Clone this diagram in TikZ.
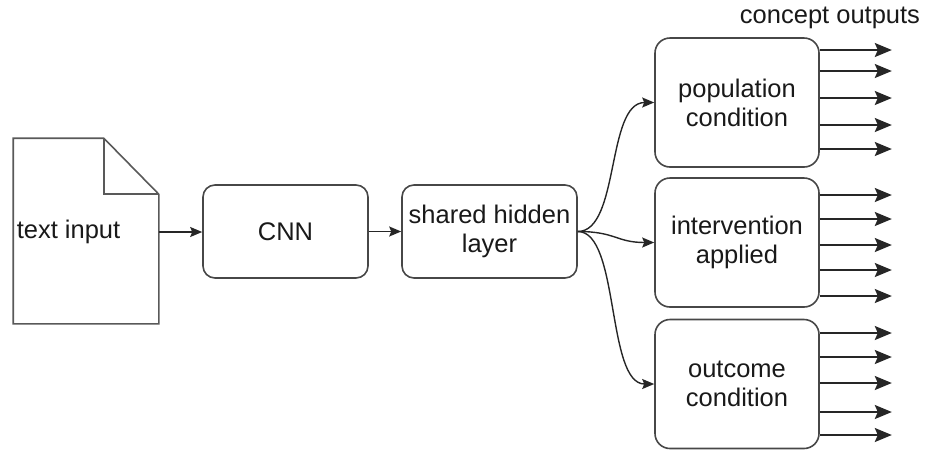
\documentclass[tikz,border=0pt]{standalone}
\usepackage{fontspec}
\setmainfont{Liberation Sans}
\usetikzlibrary{arrows.meta}
\begin{document}
\begin{tikzpicture}[x=1pt,y=-1pt,
  line width=1.6pt,
  lbl/.style={font=\fontsize{25.5}{29}\selectfont, text=black!90},
  box/.style={draw=black!72, rounded corners=12pt, lbl, align=center, inner sep=0pt},
  bigbox/.style={box, rounded corners=15pt, minimum width=164pt, minimum height=129pt},
  conn/.style={draw=black!85, line width=1.4pt, -{Stealth[length=12pt,width=10pt,inset=2pt]}},
  outarrow/.style={draw=black!85, line width=1.8pt, -{Stealth[length=17pt,width=14pt,inset=3pt]}}]
\useasboundingbox (0,0) rectangle (929,451);
% document
\node (doc) [minimum width=144pt, minimum height=184pt, inner sep=0pt] at (86,231) {};
\draw[draw=black!65, line join=miter] (doc.north west) -- ([xshift=-55pt]doc.north east)
  -- ([yshift=-56pt]doc.north east) -- (doc.south east) -- (doc.south west) -- cycle;
\draw[draw=black!65] ([xshift=-55pt]doc.north east) -- ([xshift=-55pt,yshift=-56pt]doc.north east)
  -- ([yshift=-56pt]doc.north east);
\node (doctext) [lbl, anchor=west, inner sep=0pt] at (16,232) {text input};
% boxes
\node (cnn) [box, minimum width=165pt, minimum height=93pt] at (285.5,231.5) {CNN};
\node (shl) [box, minimum width=175pt, minimum height=93pt] at (489.5,231.5) {shared hidden\\layer};
\node (pop) [bigbox] at (737,102.5) {population\\condition};
\node (int) [bigbox] at (737,242.5) {intervention\\applied};
\node (out) [bigbox] at (737,384) {outcome\\condition};
\node (co) [lbl, inner sep=0pt] at (830,18) {concept outputs};
% connectors
\draw[conn] (doc.east |- doctext) -- (cnn.west |- doctext);
\draw[conn] (cnn.east) -- (shl.west);
\draw[conn] (shl.east) .. controls +(42,0) and +(-48,0) .. (pop.west);
\draw[conn] (shl.east) .. controls +(38,0) and +(-38,0) .. (int.west);
\draw[conn] (shl.east) .. controls +(42,0) and +(-48,0) .. (out.west);
% outputs
\foreach \n/\dy in {1/52.5,2/31.5,3/4.5,4/-22.5,5/-46.5}
  \draw[outarrow] ([yshift=\dy pt]pop.east) -- ++(72,0) coordinate (pop-o\n);
\foreach \n/\dy in {1/47.5,2/23.5,3/-2.5,4/-27.5,5/-53.5}
  \draw[outarrow] ([yshift=\dy pt]int.east) -- ++(72,0) coordinate (int-o\n);
\foreach \n/\dy in {1/51,2/27,3/1,4/-28,5/-51}
  \draw[outarrow] ([yshift=\dy pt]out.east) -- ++(72,0) coordinate (out-o\n);
\end{tikzpicture}
\end{document}
